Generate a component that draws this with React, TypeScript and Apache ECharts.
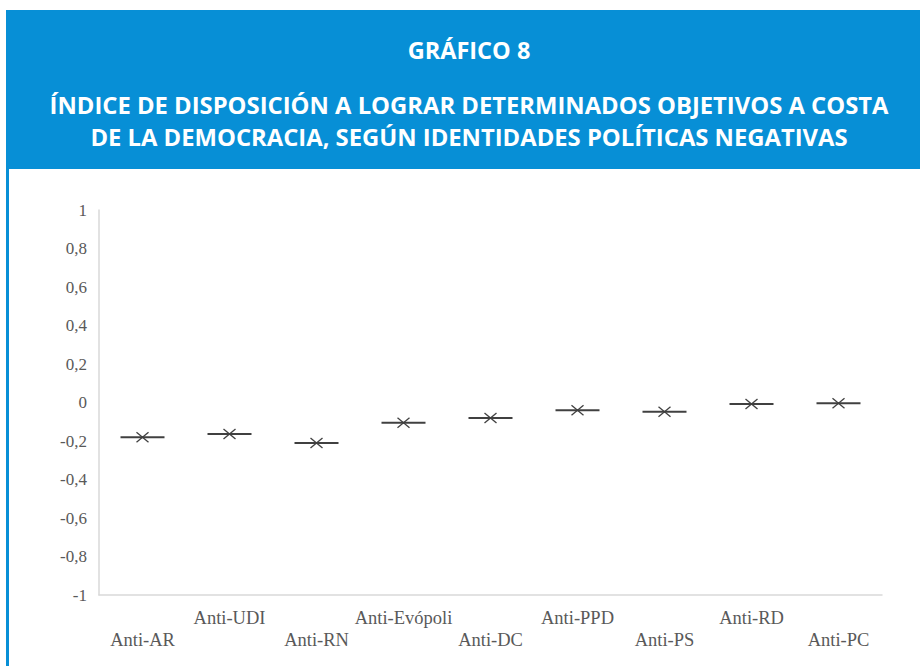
import React, { useEffect, useRef } from "react";
import * as echarts from "echarts";

const categories = [
  "Anti-AR",
  "Anti-UDI",
  "Anti-RN",
  "Anti-Evópoli",
  "Anti-DC",
  "Anti-PPD",
  "Anti-PS",
  "Anti-RD",
  "Anti-PC",
];
const values = [-0.18, -0.163, -0.21, -0.105, -0.08, -0.04, -0.048, -0.008, -0.004];
const chartNumber = "GRÁFICO 8";
const titleLines = [
  "ÍNDICE DE DISPOSICIÓN A LOGRAR DETERMINADOS OBJETIVOS A COSTA",
  "DE LA DEMOCRACIA, SEGÚN IDENTIDADES POLÍTICAS NEGATIVAS",
];

const BLUE = "#078fd6";
const MARK = "#404040";

export default function App() {
  const ref = useRef<HTMLDivElement>(null);
  useEffect(() => {
    if (!ref.current) return;
    const chart = echarts.init(ref.current, undefined, { renderer: "svg" });
    chart.setOption({
      animation: false,
      backgroundColor: "#ffffff",
      graphic: [
        { type: "rect", shape: { x: 6, y: 10, width: 914, height: 159 }, style: { fill: BLUE }, z: 0 },
        { type: "rect", shape: { x: 6, y: 169, width: 3, height: 497 }, style: { fill: BLUE }, z: 0 },
        {
          type: "text",
          x: 469,
          y: 50,
          style: {
            text: chartNumber,
            fill: "#ffffff",
            font: "bold 23.5px 'Open Sans'",
            textAlign: "center",
            textVerticalAlign: "middle",
          },
          z: 1,
        },
        {
          type: "text",
          x: 469,
          y: 121,
          style: {
            text: titleLines.join("\n"),
            fill: "#ffffff",
            font: "bold 23.8px 'Open Sans'",
            lineHeight: 32,
            textAlign: "center",
            textVerticalAlign: "middle",
          },
          z: 1,
        },
      ],
      grid: { left: 99, right: 38, top: 210, bottom: 71, containLabel: false },
      xAxis: {
        type: "category",
        data: categories,
        boundaryGap: true,
        axisLine: { show: true, onZero: false, lineStyle: { color: "#d9d9d9", width: 1.5 } },
        axisTick: { show: false },
        splitLine: { show: false },
        axisLabel: {
          interval: 0,
          margin: 12,
          color: "#595959",
          fontFamily: "'Liberation Serif'",
          fontSize: 18.5,
          lineHeight: 22,
          verticalAlign: "top",
          formatter: (v: string, i: number) => (i % 2 === 0 ? "\n" + v : v),
        },
      },
      yAxis: {
        type: "value",
        min: -1,
        max: 1,
        interval: 0.2,
        axisLine: { show: true, lineStyle: { color: "#d9d9d9", width: 1.5 } },
        axisTick: { show: false },
        splitLine: { show: false },
        axisLabel: {
          margin: 12,
          color: "#595959",
          fontFamily: "'Liberation Serif'",
          fontSize: 17,
          formatter: (v: number) => String(Math.round(v * 10) / 10).replace(".", ","),
        },
      },
      series: [
        {
          type: "custom",
          data: values.map((v, i) => [i, v]),
          renderItem: (_params: any, api: any) => {
            const p = api.coord([api.value(0), api.value(1)]);
            const x = p[0];
            const y = p[1];
            const st = { stroke: MARK, lineWidth: 2, fill: "none" };
            const st2 = { stroke: MARK, lineWidth: 1.3, fill: "none" };
            return {
              type: "group",
              children: [
                { type: "line", shape: { x1: x - 22, y1: y, x2: x + 22, y2: y }, style: st },
                { type: "line", shape: { x1: x - 6, y1: y - 5, x2: x + 6, y2: y + 5 }, style: st2 },
                { type: "line", shape: { x1: x - 6, y1: y + 5, x2: x + 6, y2: y - 5 }, style: st2 },
              ],
            };
          },
        },
      ],
    });
    return () => chart.dispose();
  }, []);
  return (
    <div
      ref={ref}
      style={{ position: "fixed", left: 0, top: 0, width: 920, height: 666 }}
    />
  );
}
